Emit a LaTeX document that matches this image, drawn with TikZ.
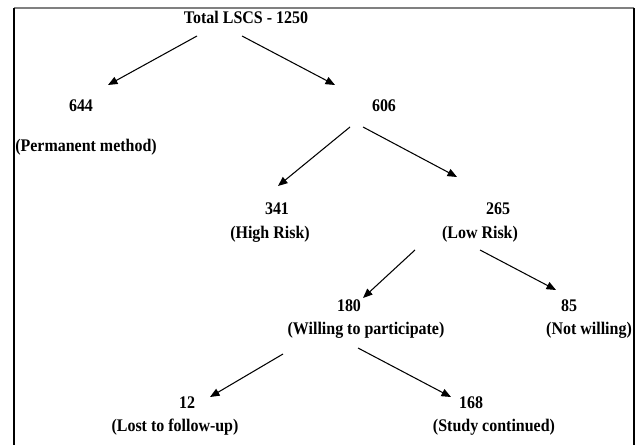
\documentclass[tikz,border=0pt]{standalone}
\usepackage{fontspec}
\setmainfont{Liberation Serif}[FakeStretch=0.9]
\usepackage{tikz}
\usetikzlibrary{arrows.meta,calc}
\definecolor{framegray}{RGB}{128,128,128}

\begin{document}
\begin{tikzpicture}[x=0.02cm,y=-0.02cm,
  lbl/.style={anchor=base,inner sep=0pt,font=\fontsize{10.1}{12}\selectfont\bfseries},
  arr/.style={line width=0.6pt,-{Triangle[length=5.4pt,width=4.4pt]}}]
\useasboundingbox (0,0) rectangle (635,445);
\draw[line width=0.6pt,framegray] (14,8) -- (634,8);
\draw[line width=0.8pt] (14,445) -- (14,8);
\draw[line width=0.8pt] (634,8) -- (634,445);
% counts and groups
\node[lbl] (total) at (246,24) {Total LSCS - 1250};
\node[lbl] (n644) at (81,112) {644};
\node[lbl] (perm) at (86,152) {(Permanent method)};
\node[lbl] (n606) at (384,112) {606};
\node[lbl] (n341) at (277,215) {341};
\node[lbl] (high) at (270,239) {(High Risk)};
\node[lbl] (n265) at (498,215) {265};
\node[lbl] (low) at (480,239) {(Low Risk)};
\node[lbl] (n180) at (349,312) {180};
\node[lbl] (will) at (366,335) {(Willing to participate)};
\node[lbl] (n85) at (569,312) {85};
\node[lbl] (notw) at (589,335) {(Not willing)};
\node[lbl] (n12) at (187,409) {12};
\node[lbl] (lost) at (175,432) {(Lost to follow-up)};
\node[lbl] (n168) at (471,409) {168};
\node[lbl] (cont) at (494,432) {(Study continued)};
% arrows
\draw[arr] ($(total.base)+(-49,12)$) -- ($(n644.base)+(27,-27)$);
\draw[arr] ($(total.base)+(-4,12)$) -- ($(n606.base)+(-49,-27)$);
\draw[arr] ($(n606.base)+(-34,15)$) -- ($(n341.base)+(1,-29)$);
\draw[arr] ($(n606.base)+(-21,15)$) -- ($(n265.base)+(-41,-38)$);
\draw[arr] ($(low.base)+(-65,11)$) -- ($(n180.base)+(14,-14)$);
\draw[arr] ($(low.base)+(0,11)$) -- ($(n85.base)+(-13,-22)$);
\draw[arr] ($(will.base)+(-83,19)$) -- ($(n12.base)+(23,-12)$);
\draw[arr] ($(will.base)+(-8,13)$) -- ($(n168.base)+(-20,-12)$);
\end{tikzpicture}
\end{document}
